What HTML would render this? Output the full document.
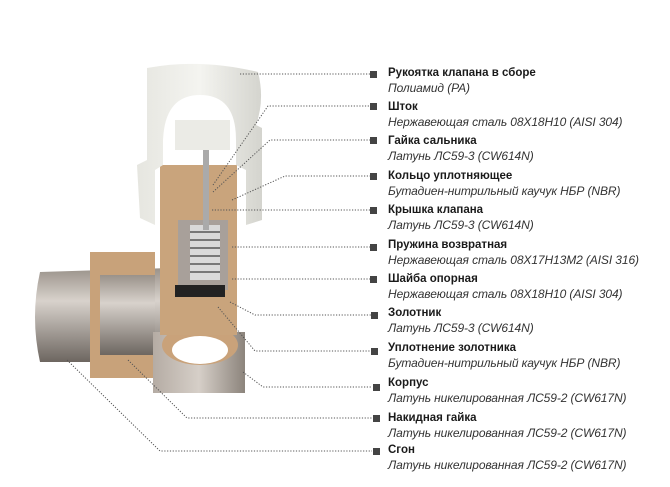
<!DOCTYPE html>
<html><head><meta charset="utf-8"><style>
body{margin:0;width:670px;height:487px;background:#fff;position:relative;overflow:hidden;font-family:"Liberation Sans","DejaVu Sans",sans-serif;color:#222}
.l{position:absolute;left:388px;line-height:15px;white-space:nowrap}
.l b{display:block;font-weight:bold;color:#1a1a1a;font-size:11.5px}
.l i{display:block;color:#333;font-size:12px;letter-spacing:-0.1px}
svg{position:absolute;left:0;top:0}
</style></head><body>
<svg width="670" height="487">
<defs>
<linearGradient id="pipe" x1="0" y1="0" x2="0" y2="1"><stop offset="0" stop-color="#9a928a"/><stop offset=".35" stop-color="#d8d2cc"/><stop offset="1" stop-color="#6d6660"/></linearGradient>
<linearGradient id="cap" x1="0" y1="0" x2="1" y2="0"><stop offset="0" stop-color="#e6e6e0"/><stop offset=".5" stop-color="#f4f4f0"/><stop offset="1" stop-color="#d4d4ce"/></linearGradient>
<linearGradient id="nut" x1="0" y1="0" x2="1" y2="0"><stop offset="0" stop-color="#b5aca4"/><stop offset=".5" stop-color="#d6cfc8"/><stop offset="1" stop-color="#8c847c"/></linearGradient>
</defs>
<path d="M40 272 L170 268 L172 362 L40 362 Q30 317 40 272Z" fill="url(#pipe)"/>
<rect x="90" y="252" width="65" height="126" fill="#c8a27a"/>
<rect x="100" y="275" width="55" height="80" fill="url(#pipe)"/>
<path d="M153 332 L245 332 L245 393 L153 393Z" fill="url(#nut)"/>
<ellipse cx="200" cy="345" rx="38" ry="20" fill="#c9a27a"/>
<ellipse cx="200" cy="350" rx="28" ry="14" fill="#fff"/>
<rect x="160" y="165" width="77" height="170" fill="#c9a47c"/>
<rect x="178" y="220" width="50" height="70" fill="#a8a09a"/>
<rect x="190" y="225" width="30" height="55" fill="#d9d9d9"/>
<g stroke="#777" stroke-width="2">
<line x1="190" y1="232" x2="220" y2="232"/><line x1="190" y1="240" x2="220" y2="240"/><line x1="190" y1="248" x2="220" y2="248"/><line x1="190" y1="256" x2="220" y2="256"/><line x1="190" y1="264" x2="220" y2="264"/><line x1="190" y1="272" x2="220" y2="272"/></g>
<rect x="175" y="285" width="50" height="12" fill="#222"/>
<!-- cap shell -->
<path d="M147 68 Q200 58 258 72 Q265 100 256 125 L262 128 L262 220 L246 225 L246 170 L236 165 L236 140 Q236 95 200 95 Q165 95 163 140 L163 165 L155 170 L155 225 L140 218 L137 165 L147 160Z" fill="url(#cap)"/>
<rect x="175" y="120" width="55" height="30" fill="#ebebe6"/>
<rect x="203" y="150" width="6" height="80" fill="#aaa"/>
<g fill="none" stroke="#555" stroke-width="1" stroke-dasharray="1.2 1.6">
<polyline points="240,74 372,74"/>
<polyline points="213,185 268,106 372,106"/>
<polyline points="213,192 270,140 372,140"/>
<polyline points="232,200 285,176 372,176"/>
<polyline points="212,210 372,210"/>
<polyline points="232,247 372,247"/>
<polyline points="232,279 372,279"/>
<polyline points="230,302 255,315 372,315"/>
<polyline points="218,307 255,351 372,351"/>
<polyline points="243,372 263,387 372,387"/>
<polyline points="128,360 187,418 372,418"/>
<polyline points="67,360 160,451 372,451"/>
</g>
<g fill="#444">
<rect x="370" y="71" width="7" height="7"/><rect x="370" y="103" width="7" height="7"/><rect x="370" y="137" width="7" height="7"/><rect x="370" y="173" width="7" height="7"/><rect x="370" y="207" width="7" height="7"/><rect x="370" y="244" width="7" height="7"/><rect x="370" y="276" width="7" height="7"/><rect x="371" y="312" width="7" height="7"/><rect x="371" y="348" width="7" height="7"/><rect x="373" y="384" width="7" height="7"/><rect x="373" y="415" width="7" height="7"/><rect x="373" y="448" width="7" height="7"/>
</g>
</svg>
<div class="l" style="top:66px"><b>Рукоятка клапана в сборе</b><i>Полиамид (PA)</i></div>
<div class="l" style="top:100px"><b>Шток</b><i>Нержавеющая сталь 08Х18Н10 (AISI 304)</i></div>
<div class="l" style="top:134px"><b>Гайка сальника</b><i>Латунь ЛС59-3 (CW614N)</i></div>
<div class="l" style="top:169px"><b>Кольцо уплотняющее</b><i>Бутадиен-нитрильный каучук НБР (NBR)</i></div>
<div class="l" style="top:203px"><b>Крышка клапана</b><i>Латунь ЛС59-3 (CW614N)</i></div>
<div class="l" style="top:238px"><b>Пружина возвратная</b><i>Нержавеющая сталь 08Х17Н13М2 (AISI 316)</i></div>
<div class="l" style="top:272px"><b>Шайба опорная</b><i>Нержавеющая сталь 08Х18Н10 (AISI 304)</i></div>
<div class="l" style="top:306px"><b>Золотник</b><i>Латунь ЛС59-3 (CW614N)</i></div>
<div class="l" style="top:341px"><b>Уплотнение золотника</b><i>Бутадиен-нитрильный каучук НБР (NBR)</i></div>
<div class="l" style="top:376px"><b>Корпус</b><i>Латунь никелированная ЛС59-2 (CW617N)</i></div>
<div class="l" style="top:411px"><b>Накидная гайка</b><i>Латунь никелированная ЛС59-2 (CW617N)</i></div>
<div class="l" style="top:443px"><b>Сгон</b><i>Латунь никелированная ЛС59-2 (CW617N)</i></div>
</body></html>
